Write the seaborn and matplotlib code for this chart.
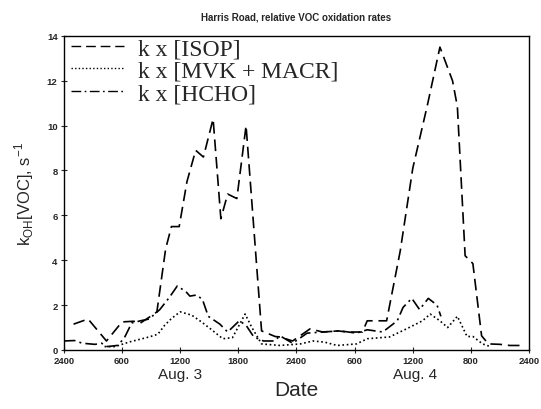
import matplotlib
matplotlib.use("Agg")
import matplotlib.pyplot as plt
import seaborn as sns
import pandas as pd

# hours since midnight starting Aug. 3
isop_h = [1.0, 2.5, 4.4, 6.0, 7.2, 7.9, 9.3, 9.6, 10.5, 11.1, 11.9, 12.7, 13.6, 14.4, 15.4, 16.2,
          16.9, 17.85, 18.8, 20.4, 21.8, 22.3, 23.6, 25.4, 26.7, 28.3, 29.2, 30.8, 31.3, 33.3,
          34.7, 36.0, 37.5, 38.8, 40.1, 40.6, 41.4, 42.2, 43.1, 43.8, 45.0, 46.0, 47.3]
isop_v = [1.15, 1.38, 0.4, 1.25, 1.28, 1.2, 1.6, 1.7, 4.5, 5.5, 5.5, 7.5, 8.9, 8.6, 10.3, 5.85,
          6.95, 6.75, 10.0, 0.85, 0.6, 0.58, 0.4, 0.94, 0.8, 0.85, 0.8, 0.8, 1.3, 1.3,
          4.4, 8.1, 10.9, 13.5, 12.0, 10.85, 4.2, 3.85, 0.63, 0.27, 0.25, 0.2, 0.2]

mvk_h = [4.2, 5.3, 6.7, 8.8, 9.7, 10.4, 11.1, 12.0, 13.2, 14.2, 15.1, 16.4, 17.4, 18.7, 19.4,
         20.4, 22.3, 24.4, 25.7, 26.9, 28.2, 30.2, 31.3, 33.6, 35.4, 37.0, 37.8, 38.8, 39.6,
         40.6, 41.6, 42.2, 43.2, 44.0]
mvk_v = [0.15, 0.15, 0.35, 0.58, 0.7, 1.1, 1.4, 1.7, 1.55, 1.25, 0.95, 0.5, 0.55, 1.6, 1.0,
         0.27, 0.2, 0.27, 0.4, 0.35, 0.2, 0.27, 0.5, 0.58, 0.95, 1.3, 1.6, 1.3, 1.0,
         1.5, 0.6, 0.6, 0.27, 0.15]

hcho_h = [0.0, 1.1, 1.9, 3.2, 3.9, 4.5, 5.5, 6.2, 7.0, 7.9, 8.8, 9.9, 10.9, 11.7, 12.6, 13.0,
          13.7, 14.3, 14.9, 16.1, 16.9, 18.1, 18.8, 19.6, 20.6, 21.7, 22.3, 23.6, 25.1, 26.7,
          28.5, 30.2, 31.3, 32.9, 34.4, 35.0, 35.9, 36.7, 37.6, 38.5, 38.9]
hcho_v = [0.4, 0.42, 0.3, 0.25, 0.3, 0.15, 0.2, 0.5, 1.2, 1.3, 1.38, 1.8, 2.35, 2.85, 2.6, 2.4,
          2.45, 2.25, 1.5, 1.15, 0.8, 1.3, 1.1, 0.58, 0.4, 0.4, 0.63, 0.3, 0.75, 0.8,
          0.85, 0.75, 0.9, 0.8, 1.3, 1.9, 2.3, 1.8, 2.3, 2.0, 1.5]

labels = ["k x [ISOP]", "k x [MVK + MACR]", "k x [HCHO]"]
tick_pos = [0, 6, 12, 18, 24, 30, 36, 42, 48]
tick_labels = ["2400", "600", "1200", "1800", "2400", "600", "1200", "800", "2400"]

df = pd.concat([
    pd.DataFrame({"h": isop_h, "v": isop_v, "s": labels[0]}),
    pd.DataFrame({"h": mvk_h, "v": mvk_v, "s": labels[1]}),
    pd.DataFrame({"h": hcho_h, "v": hcho_v, "s": labels[2]}),
])

sns.set_style("ticks")
plt.rcParams["font.family"] = ["Liberation Sans", "DejaVu Sans"]

fig = plt.figure(figsize=(5.41, 4.10), dpi=100)
ax = fig.add_axes([0.118, 0.144, 0.860, 0.766])

dashes = {labels[0]: (7, 3.5), labels[1]: (1, 1.6), labels[2]: (7, 2.5, 1.2, 2.5)}
sns.lineplot(data=df, x="h", y="v", style="s", dashes=dashes, color="black",
             linewidth=1.2, ax=ax, sort=True, estimator=None, legend=True)

ax.set_xlim(0, 48)
ax.set_ylim(0, 14)
ax.set_xticks(tick_pos)
ax.set_xticklabels(tick_labels, fontsize=6.8, fontweight="bold")
ax.set_yticks(range(0, 15, 2))
ax.set_yticklabels([str(v) for v in range(0, 15, 2)], fontsize=6.8, fontweight="bold")
ax.tick_params(direction="inout", length=5, width=0.8, pad=2)
for sp in ax.spines.values():
    sp.set_linewidth(1.0)
    sp.set_color("black")

ax.set_xlabel("")
ax.set_ylabel(r"k$_{\mathregular{OH}}$[VOC], s$^{\mathregular{-1}}$", fontsize=12, labelpad=8)
ax.set_title("Harris Road, relative VOC oxidation rates", fontsize=7, fontweight="bold", pad=12)

fig.text(0.333, 0.085, "Aug. 3", fontsize=11, ha="center", va="center")
fig.text(0.768, 0.085, "Aug. 4", fontsize=11, ha="center", va="center")
fig.text(0.548, 0.048, "Date", fontsize=15, ha="center", va="center")

handles, lbls = ax.get_legend_handles_labels()
leg = ax.legend(handles, lbls, loc="upper left", bbox_to_anchor=(-0.015, 1.04), frameon=False,
                prop={"family": "Liberation Serif", "size": 17}, handlelength=2.25,
                handletextpad=0.6, labelspacing=0.05, borderaxespad=0.2)
for line in leg.get_lines():
    line.set_linewidth(1.0)

fig.savefig("out.png", dpi=100)
